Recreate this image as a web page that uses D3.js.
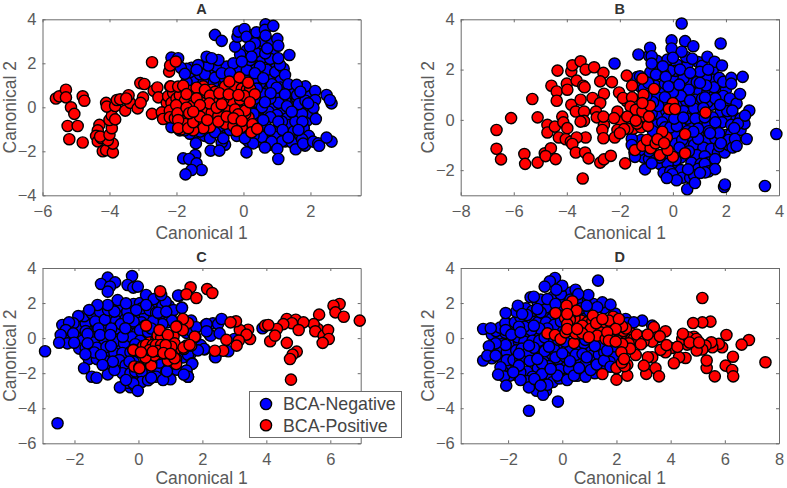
<!DOCTYPE html>
<html><head><meta charset="utf-8">
<script src="https://cdnjs.cloudflare.com/ajax/libs/d3/7.8.5/d3.min.js"></script>
<style>html,body{margin:0;background:#fff}svg{display:block}text{font-family:"Liberation Sans",Arial,sans-serif}</style>
</head><body><div id="c"></div>
<script>
const panelTitles=["A","B","C","D"];
const seriesNames=["BCA-Negative","BCA-Positive"];
const xDomains=[[-6,3.5],[-8,4],[-3,6.95],[-3.75,8]];
const yDomains=[[-4,4],[-3,4],[-6,4],[-6,4]];
const xTicks=[[-6,-4,-2,0,2],[-8,-6,-4,-2,0,2,4],[-2,0,2,4,6],[-2,0,2,4,6,8]];
const yTicks=[[-4,-2,0,2,4],[-2,0,2,4],[-6,-4,-2,0,2,4],[-6,-4,-2,0,2,4]];

const negA=[[.5,1.1],[.8,.85],[1,.55],[.6,.3],[.9,.1],[1.2,-.1],[.5,-.05],[.75,-.2],[1,-.35],[1.3,-.5],[1.55,-.35],[1.7,-.05],[1.4,.25],[1.6,.4],[1.9,-.2],[.4,-.5],[.2,-.2],[.4,.25],[.2,.85],[-.2,1.15],[-.6,1.1],[-.9,1.1],[-1.2,1.25],[-1.5,1.3],[-1.7,1.15],[-2.1,-.65],[-2,-.8],[-1.3,-.95],[-1.5,-1.25],[-1.15,-1.3],[-.7,-1.05],[-.55,-.9],[-.4,-.85],[0,-.95],[1.4,-.8],[.9,-1.1],[.5,-1.1],[.1,-1.25],[.7,-1.4],[1.1,-1.3],[1.25,-1.55],[.8,-1.7],[.45,-1.55],[1.5,-1.1],[.1,-.55],[.1,1.5],[.4,1.2],[.75,1.3],[-.4,1.55],[-.7,1.6],[-1,1.7],[-1.3,1.5],[0,1.85],[.3,1.9],[.1,2.6],[.5,2.6],[.9,2.4],[.9,2.05],[.65,1.9],[.2,3.1],
[-1.6,1.6],[-1.15,1.5],[-.85,1.35],[-.55,1.3],[-.25,1.3],[.05,1.25],[.3,1.2],[-.8,1.85],[-.5,1.85],[-.2,1.8],[.1,1.7],[.7,1.7],[.95,1.6],[1.2,1.75],[.2,2.15],[.55,2.25],[.8,2.2],[.45,2.9],[.6,3],[.85,2.95],[.15,3.3],[.3,3.2],[-.1,2.4],[.35,2.5],[.65,2.45],[1.1,1.2],[.85,1.05],[1.1,.9],[1.5,.75],[1.9,.55],[1.85,.95],[1.6,.55],[1.25,.3],[1.05,.2],[.8,.4],[.6,.6],[.4,.85],[.35,.4],[.15,.45],[.55,0],[.3,-.3],[.8,-.45],[1.15,-.65],[1.55,-.65],[1.9,-.6],[2.05,-.3],[1.75,-.3],[1.3,.05],[1.65,.15],[1.85,.3],[.65,-.8],[.35,-.85],[.1,-.75],[.55,-1.35],[.3,-1.3],[.15,-1.55],[.95,-1.35],[1.15,-1.55],[1.45,-1.6],[1.7,-1.3],[1.8,-.95],[1.95,-1.3],[1.75,-1.45],[-.2,-1.3],[-.1,-.95],[-.7,-.85],[-.95,-1],[-1.05,-1.15],[-1.6,-1.2],[-1.9,-1.05],[-1.75,-1.05],[-2.15,-.9],[-.55,-1.7],[-.65,-1.6],[-1.05,1.9],[-.3,2],[-1.55,1.8],[-1.7,1.75],
[-.85,3.29],[-.65,3.02],[-.25,2.76],[-.18,3.21],[-.15,3.44],[.03,3.56],[.09,3.21],[.39,3.41],[.66,3.77],[.64,3.52],[.89,3.7],[.66,3.26],[1.01,3.11],[1.04,2.8],[.34,2.91],[.19,2.76],[.71,2.68],[1.37,2.38],[1.09,1.92],[1.04,2.23],[.24,2.3],[-.05,2.08],[.49,1.85],[.34,1.55],[-1.1,2.3],[-.75,2.15],[-.95,2.23],[-2.15,2.26],[-1.95,2.23],[-1.87,1.8],[-1.75,1.52],[-1.35,1.92],[-1.4,1.7],[-.65,1.55],[-.4,1.55],[.59,1.32],[1.24,1.47],[1.34,1.05],[1.59,1.02],[.99,.89],[.81,.64],[1.24,.59],[.64,.23],[1.7,.71],[2.14,.74],[2.48,.56],[2.14,.33],[2.63,.18],[2.09,-.02],[1.93,.18],[2.58,.33],[2.16,-.53],[1.76,-.65],[1.44,-.2],[1.04,-.65],[.59,-.58],[1.17,-1.03],[.79,-1.03],[1.64,-1.03],[.84,-1.56],[1.34,-1.38],[1.01,-1.89],[1.04,-2.35],[1.56,-1.91],[1.84,-1.74],[1.78,-1.65],[2.08,-1.56],[2.23,-1.64],[2.26,-1.75],[2.63,-1.56],[2.48,-1.38],[.64,-1.83],[.29,-1.64],[.09,-2.05],[-.98,-1.97],[-.72,-1.97],[-1.42,-1.64],[-1.44,-2.17],[-1.8,-2.32],[-1.62,-2.35],[-1.4,-2.55],[-1.25,-2.85],[-1.55,-2.85],[-1.73,-3.05],[-1.3,-1.1],[-1,-1.41],[-.85,-1.14],[-.6,-1.41],[-.4,-1.03],[.04,-1.41]];
const posA=[[-5.6,.4],[-5.5,.5],[-5.3,.8],[-5.3,.45],[-4.8,.5],[-4.75,.3],[-5.15,0],[-5.05,-.3],[-5.25,-.85],[-4.95,-.85],[-5.2,-1.45],[-4.8,-1.6],[-4.3,-.8],[-4.35,-1.05],[-4.4,-1.3],[-4.35,-1.55],[-4.25,-1.4],[-4.2,-2],[-4.1,-1.95],[-3.9,-2.05],[-3.9,-1.65],[-4.05,-1.5],[-4.28,-1.33],[-4,-1.25],[-3.93,-.95],[-4,-.58],[-3.93,-.38],[-3.83,-.55],[-4.1,.2],[-4.08,.03],[-3.83,.06],[-3.78,.33],[-3.68,.36],[-3.53,-.15],[-3.38,.2],[-3.43,.55],[-3.5,.4],[-3.16,-.05],[-3.08,1.1],[-2.96,1.06],[-3,.45],[-3.07,.2],[-2.73,2.05],[-2.73,-.3],[-2.68,.75],[-2.57,.9],[-2.54,.45],[-2.29,.2],[-2.44,-.23],[-2.4,-.53],[-2.19,.94],[-2.22,1.62],[-2.19,1.9],[-2.02,2.08],
[-2.25,.5],[-2.1,.65],[-2.15,.2],[-2,.4],[-1.85,.25],[-1.6,.75],[-1.55,.3],[-1.3,.6],[-1.2,.95],[-1.1,.25],[-.95,.8],[-.85,.35],[-.55,.7],[-.3,.7],[-.55,.95],[-.25,.95],[-.05,.85],[.1,.8],[-.2,.1],[-.35,-.2],[-.6,-.15],[-.9,-.5],[-1,-.9],[-1.25,-.75],[-1.45,-.4],[-1.75,-.5],[-1.85,-.15],[-2.2,-.15],[-2.2,-.45],[-1.2,-.95],[-1.5,-1.05],[-1.85,-1],[-.55,-.75],[-.3,-.85],[-.05,-.9],[.15,-.45],[.05,-.3],[.2,.85],
[-1.9,.55],[-1.75,.3],[-1.5,.5],[-1.25,.35],[-1.55,.05],[-1.2,-.1],[-.95,-.25],[-.5,.05],[-.35,.3],[-.1,.35],[-.25,-.1],[-.6,.35],[-.85,.7],[-1.1,.65],[.05,-.15],[-2.05,-.5],[-1.75,-.75],[-2.01,.1],[-1.97,-.27],[-2.17,.95],[-1.95,.94],[-1.8,.98],[-1.7,.6],[-1.7,-.02],[-1.95,-.58],[-1.95,-.95],[-1.65,-.95],[-1.5,-.68],[-1.4,.89],[-1.4,.41],[-1.62,-.27],[-1.15,.79],[-1,.53],[-1.02,.18],[-1.3,-.42],[-1.08,-.58],[-.75,-.39],[-.75,-.65],[-.8,-.02],[-.65,.14],[-.5,-.42],[-.72,.64],[-.44,.59],[-.42,1.17],[-.12,1.36],[.14,1.12],[.03,.52],[.34,.59],[-.15,.56],[.19,.23],[-.16,-.32],[-.3,-.5],[-.05,-.62],[-.2,-1.08],[.27,-.77],[.24,-1.14],[.41,-.98],[-1.3,.1],[-1.5,-.2]];

const negB=[[.2,1],[.45,1.2],[.7,1.35],[1,1.1],[1.3,1.1],[1.55,.95],[1.75,.75],[2,.55],[.2,.65],[.5,.75],[.85,.8],[1.1,.85],[1.45,.6],[1.8,.3],[2.1,.15],[2.4,.05],[.1,.25],[.4,.35],[.75,.25],[1,.3],[1.5,.1],[1.85,-.1],[2.2,-.2],[2.55,-.4],[.05,-.1],[.35,-.25],[.7,-.15],[1,-.1],[1.3,-.2],[1.6,-.35],[2,-.6],[.15,-.6],[.7,-.7],[1,-.55],[1.3,-.8],[1.6,-.75],[1.95,-.9],[.1,-.95],[.45,-1],[.8,-1],[1.15,-1.1],[1.45,-1.15],[.9,-1.4],[1.2,-1.45],[.7,-1.7],[1.05,-1.75],[1.35,-1.7],[.3,-1.5],[.05,-1.8],[-.3,-1.5],[-.5,-1.75],[-.1,.9],[-.35,.55],[-.5,.2],[-.4,1.15],[-.6,.9],[-.65,1.35],[-.9,1.7],[-1.2,1.3],[-.6,1.8],[.05,1.7],[.6,1.5],[.9,1.5],[-1.45,-1.3],[-1.3,-.9],[-1.1,-1.5],[-.9,-1.55],[-.6,-.2],
[-.9,2.55],[-.6,2.35],[-.55,2.05],[-.2,2.4],[.15,2.2],[.55,2.2],[.95,2.3],[.5,2.5],[1.1,2.15],[1.5,1.95],[.6,1.2],[.1,1.95],[-.1,1.95],[-.35,1.85],[-.85,1.9],[-.3,1.45],[.4,1.65],[1.5,1.6],[1.25,1.7],[1.75,1.3],[1.55,1.3],[2,1.2],[1.9,.95],[1.3,.7],[1.6,.85],[2.15,.85],[2.4,.65],[2.05,.35],[2.55,.05],[2.7,-.15],[2.45,-.15],[2.2,-.55],[1.6,-.1],[.3,.95],[0,1.1],[-.3,.9],[-.25,.35],[-.2,.1],[-.4,-.1],[-.3,-.3],[-.1,-.3],[.15,-.25],[.05,.05],[.55,.05],[.8,.45],[.85,.05],[1.2,.1],[1.35,-.45],[.95,-.35],[.55,-.45],[.35,-.8],[.6,-1.25],[.95,-.75],[.25,-1.1],[.1,-1.6],[-.2,-1.75],[-.35,-2.1],[-.1,-2.05],[.3,-2],[.35,-2.3],[.65,-2.3],[.95,-1.95],[.8,-2.2],[1.2,-1.75],[1.35,-2.05],[1.7,-1.3],[1.95,-1.3],[1.75,-1.05],[2.1,-1],[2.1,-.8],[2.25,-1.1],[-.7,-1.4],[-.5,-1.5],[-.9,-1.25],[-1.25,-1.2],[-1.2,-.8],[-1.55,-.75],[-.75,-.45],[-.8,.25],[-.55,.55],[-.75,.7],[-1,.95],[-1.35,1.7],[-1.1,1.25],
[.33,3.83],[-.05,3.16],[.46,3.13],[1.8,3.04],[.77,2.93],[-.86,2.87],[-1.3,2.6],[-.8,2.53],[-.05,2.84],[.33,2.71],[0,2.47],[.73,2.43],[1.3,2.51],[1.57,2.31],[1.85,2.16],[-2.2,2.24],[-.8,2.24],[-.38,2.13],[.27,2],[1.02,1.91],[1.33,2],[.65,1.87],[-.64,1.8],[-.27,1.71],[1.75,1.67],[1.9,1.51],[2.2,1.67],[2.2,1.44],[2.63,1.71],[2.53,1.03],[.24,1.4],[1.25,1.37],[1.02,1.47],[-.17,1.33],[-.93,1.47],[-1.24,1.73],[.65,.77],[1.21,.89],[1.78,.6],[2.24,.37],[2.88,.37],[2.72,.17],[2.31,-.33],[2.78,-.76],[2.34,-.76],[2.4,-1.04],[1.74,-.53],[1.4,-.53],[1.15,.47],[.39,.09],[.77,-.47],[1.81,-.93],[1.59,-1.56],[1.59,-1.96],[1.21,-2.09],[1.02,-2.11],[.57,-1.97],[-.02,-2.16],[.14,-2.4],[-.23,-2.31],[.54,-2.76],[.83,-2.51],[1.93,-2.67],[1.96,-2.57],[3.47,-2.63],[3.9,-.56],[-1.05,-1.97],[-.8,-1.73],[-1.43,-1.47],[-1.55,-1]];
const posB=[[-6.65,-.4],[-6.65,-1.15],[-6.48,-1.57],[-6.1,.07],[-5.3,.83],[-5.1,.1],[-5.6,-1.36],[-5.57,-1.75],[-5.1,-1.7],[-4.83,-1.33],[-4.6,-1.13],[-4.8,-1.44],[-4.42,-1.56],[-4.73,-.2],[-4.73,-.5],[-4.45,-.27],[-4.3,-.7],[-4.58,1.36],[-4.35,1.96],[-4.38,1.13],[-4.38,.76],[-4.17,.13],[-4.13,-.1],[-3.98,-.33],[-4.04,-.77],[-3.85,-.87],[-4,1.44],[-3.98,1.2],[-3.83,.6],[-3.66,.33],[-3.83,1.93],[-3.79,2.17],[-3.48,2.33],[-3.63,1.56],[-3.38,1.36],[-3.33,1.3],[-3.48,.8],[-3.29,2],[-2.97,2.09],[-2.62,1.87],[-2.74,1.53],[-2.3,1.5],[-2.6,1.04],[-3.03,.87],[-2.74,.67],[-3.35,.33],[-2.9,.33],[-2.87,.1],[-3.35,-.04],[-3.48,-.07],[-2.6,-.2],[-2.62,.13],[-2.66,-.4],[-2.62,-.73],[-3.29,-.7],[-3.63,-.7],[-3.79,-.96],[-3.66,-1.3],[-3.31,-1.3],[-3.18,-1.53],[-2.74,-1.7],[-2.6,-1.57],[-2.34,-1.43],[-3.4,-2.33],[-1.8,-1.73],[-1.75,.75],[-1.35,.15],[-1.2,.1],[-1.05,.45],[-1.5,-.35],[-1.7,-.35],[-1.2,-.3],[-1.35,-.15],[-1.25,.45],[-1.95,-.1],[-2.09,.33],[-2.22,.07],[-2.09,-.4],[-2.19,-.7],[-1.84,-.37],[-2,-.53],[-2.03,1.09],[-1.74,1.76],[-1.88,.87],[-1.54,1.36],[-1.54,.89],[-1.15,1.64],[-.71,1.23],[-1.11,1],[-1.6,.53],[-1.4,.4],[-1.72,.13],[-1.4,-.03],[-1.15,.33],[-.86,.56],[-.94,-.24],[-.9,.13],[-1.15,.67],[0,.67],[-.15,.43],[.08,.43],[1.23,.29],[.46,-.57],[.46,-1.33],[-1.43,-1.2],[-1.15,-1.03],[-.84,-1.13],[-.98,-.8],[-.65,-.93],[-.49,-1.4],[0,-1.47],[-.2,-1.2],[-.23,-.7],[-.4,-.47],[-.58,-.77],[-.33,-.93]];

const negC=[[-1.8,.9],[-1.5,1.05],[-1.2,1.2],[-.9,1.3],[-.6,1.5],[-.3,1.7],[-1.9,.5],[-1.6,.6],[-1.3,.75],[-1,.85],[-.7,1],[-.4,1.1],[-.1,1.2],[.2,1.3],[.5,1.2],[.8,1.1],[1,1.3],[-2,.05],[-1.75,.05],[-1.45,.2],[-1.1,.45],[-.7,.55],[-.4,.6],[-.1,.7],[.1,.9],[-1.8,-.35],[-1.5,-.5],[-1.2,-.4],[-1.05,-.1],[-.65,-.1],[-.3,.3],[-.05,.3],[.1,.1],[-1.45,-.9],[-1.2,-.7],[-.95,-.7],[-.6,-.6],[-.3,-.5],[-1,-1.1],[-.75,-1.05],[-.45,-1.1],[-.2,-1],[-.6,-1.6],[-.35,-1.8],[-.05,-1.6],[.3,-1.8],[.6,-1.8],[.95,-1.6],[-.1,-2.2],[.15,-2.3],[.55,-2.2],[-.25,-2.8],[-1.9,.2],[.9,.9],[.5,1.75],[.7,1.6],
[-2.3,.1],[-2.1,.6],[-1.85,.65],[-1.65,.85],[-1.7,1.25],[-1.45,1.4],[-1.2,1.5],[-1.35,.95],[-1.05,1.05],[-.95,1.6],[-.65,1.8],[-.35,1.5],[-.15,1.95],[.05,2],[.1,1.7],[.35,1.6],[.55,1.45],[.95,1.85],[.75,1.85],[1.1,1.6],[1.05,1],[.75,.8],[.45,.95],[.2,.7],[-.15,.95],[-.55,.8],[-.85,.55],[-1.25,.55],[-1.65,.4],[-1.4,.05],[-1.05,-.15],[-.75,-.2],[-.45,-.3],[-.2,.05],[.05,.45],[.3,.35],[.4,.55],[.05,-.15],[-.1,-.35],[-2.2,0],[-1.9,-.05],[-1.75,-.15],[-1.85,-.6],[-1.65,-.55],[-1.4,-.25],[-1.3,-.55],[-1,-.5],[-.75,-.85],[-.5,-.85],[-.25,-.8],[-1.55,-1.2],[-1.3,-1.2],[-1.05,-1.3],[-.85,-1.55],[-.6,-1.25],[-.4,-1.55],[-.15,-1.35],[-.5,-2],[-.25,-2],[-.1,-1.9],[.1,-1.95],[-.35,-2.55],[-.1,-2.75],[.1,-2.5],[.3,-2.4],[.65,-1.4],[.4,-1.4],[1.2,-1.8],[1.15,-1.1],[1.5,.3],[1.7,.3],[1.8,-.35],[1.95,-.4],[1.65,-.85],[1.4,-1.1],[1.55,-.95],
[-.96,3.45],[-1.17,3.09],[-.73,3.18],[-.89,2.94],[-.96,2.65],[-.2,3.54],[-.34,3.03],[-.16,2.88],[-.02,2.94],[-.65,2.17],[-.39,1.98],[.24,2.46],[.48,2.23],[.85,2.08],[.71,2.46],[1.27,2.42],[1.36,1.74],[.61,1.45],[.87,1.51],[.24,1.89],[-.07,1.6],[-.31,1.13],[-.75,1.51],[-.96,1.89],[-1.28,1.89],[-1.54,1.6],[-1.88,1.26],[-2.03,.84],[-2.38,.75],[-2.17,.9],[-2.27,.46],[-2.04,.27],[-2.43,.18],[-2.22,-.3],[-2.01,-.26],[-2.48,-.26],[-1.59,.24],[-1.2,.18],[-.88,.18],[-.49,.08],[-.41,.56],[-1.59,-.3],[-1.38,-.82],[-1.66,-.92],[-1.7,-1.72],[-1.46,-2.2],[-1.31,-2.26],[-.96,-2.07],[-.75,-1.82],[-.8,-1.34],[-.86,-.45],[-1.17,-.96],[-1.12,-1.53],[-.58,-2.81],[-.16,-2.58],[-.02,-3.01],[-.39,-2.39],[-.28,-1.34],[.4,-2.26],[.87,-1.91],[1,-2.35],[.77,-2.39],[1.5,-1.87],[1.55,-2.2],[1.68,-1.44],[2.07,-.64],[2.23,.18],[2.33,.84],[2.1,.75],[2.39,-1.06],[-2.92,-.75],[-2.53,-4.86],[1.24,2.43],[1.36,1.72],[1.65,1],[1.81,.62],[2.13,.8],[2.05,-.62],[2.41,-1.09],[2.26,.14],[2.49,.8],[2.6,1.09],[2.54,.27],[2.13,.39],[3,-.05],[2.81,-.75],[1.68,-1.47],[1.5,-1.85],[1.55,-2.2],[1.42,-2.08],[.89,-1.89],[1.86,-.7],[3.88,.56]];
const posC=[[6.92,1],[6.29,1.95],[6.1,1.85],[6.16,1.47],[6.42,1.22],[5.65,1.34],[5.61,.52],[5.48,.8],[5.53,.39],[5.79,.14],[5.93,.46],[5.95,-.05],[5.76,-.27],[4.64,1.09],[4.92,1.05],[5.16,.9],[4.8,.85],[5.01,.46],[4.53,.8],[4.33,.52],[3.96,.71],[4.06,.75],[4.12,-.18],[4.27,.14],[4.64,-.27],[4.95,-.77],[4.82,-.94],[4.74,-1.19],[4.77,-2.37],[3.43,.48],[3.49,-.05],[3.17,.46],[3.38,.2],[3.14,-.14],[3.07,-.43],[3.05,.96],[2.88,.9],[2.75,-.1],[2.65,-.72],[2.39,-.72],[2.15,2.8],[2.31,2.57],[1.63,2.9],[1.5,2.5],[1.81,2.29],[.68,2.67],[.24,.71],[1.55,.86],[1.39,1.09],[1.21,.67],[1.39,.45],[1.78,.08],[1.5,-.43],[1.65,-.43],[1.42,-.62],[-.15,-.66],[-.13,-1.62],[.03,-1.66],[.22,-1.09],[.4,-1.57],[.66,-.9],[1.18,-1.19],[1.18,-1.48],[.92,-1.28],[.35,-.25],[.55,-.15],[.7,-.1],[.85,-.1],[1,.05],[1.1,.1],[.45,-.55],[.6,-.5],[.75,-.6],[.9,-.45],[1.15,-.65],[1.05,-.95],[.5,-1],[.3,-.6],[.15,-.45],[.6,.15],[.71,-.01],[.66,.46],[.92,.18],[1.13,-.3],[1.18,.65],[1.76,.08],[1.41,-.54],[1.6,-.39],[.22,-1.11],[-.16,-.68],[.03,-1.72],[1.13,-1.15],[.82,-.87],[.24,-.39],[.45,-.39],[.35,-.68],[.55,-.39],[.71,-.39],[.92,-.68],[1.03,-.49],[.61,-.73],[.45,-.77],[.08,-.81],[.85,-.4],[.78,-.85],[1,-.9]];

const negD=[[-2.5,-.6],[-2.3,-.1],[-2.1,.3],[-1.9,.8],[-1.6,1.1],[-1.4,.7],[-1.15,1.1],[-.9,.9],[-.7,1.4],[-.4,1.1],[-.1,1.3],[-.05,1.9],[.2,2.3],[.3,2.6],[-.1,2.3],[-.4,1.7],[.9,1.5],[1.1,1.3],[-2.2,-1.3],[-1.9,-1],[-1.9,-.4],[-1.6,-.2],[-1.3,.2],[-1,.15],[-.7,.4],[-.6,.9],[-2,-1.7],[-1.7,-1.5],[-1.4,-1.1],[-1.1,-.9],[-.8,-.5],[-.5,-.2],[-.2,-.4],[-.1,.5],[.3,-.6],[.6,-.7],[1,-.6],[1.3,-.6],[1.6,-.5],[-1.7,-2.1],[-1.3,-1.9],[-.9,-1.7],[-.7,-1.2],[-.4,-.9],[-.1,-1.3],[.1,-1.7],[.4,-1.2],[.7,-1.3],[1.1,-1.3],[-1.1,-2.2],[-.8,-2.4],[-.4,-2.2],[-.1,-1.8],[.3,-2.1],[.7,-2],[1,-1.9],[-.5,-1.6],[1.2,-.2],[.1,-.2],[.8,-.3],
[-2.6,.2],[-2.45,.4],[-2.3,.6],[-2.1,.85],[-1.75,.9],[-1.55,1.2],[-1.7,1.5],[-1.35,1.7],[-1.1,1.55],[-.9,1.95],[-.6,1.75],[-.8,2.2],[-.35,2.35],[-.05,2.5],[.3,2.2],[.65,2.1],[.95,2.1],[1.15,1.95],[.7,1.7],[1,1.55],[1.55,1.7],[2.1,1],[1.95,1.4],[-.3,.75],[-.05,.95],[-.55,.55],[-.85,.55],[-1.15,.45],[-1.4,.65],[-1.6,.65],[-1.65,.05],[-1.4,-.2],[-1.1,-.15],[-.85,-.15],[-.65,.05],[-.3,-.15],[-2.25,-.35],[-2.6,-.7],[-2.6,-1.15],[-2.3,-.8],[-2.05,-.8],[-1.7,-.7],[-1.5,-.6],[-1.25,-.8],[-1.05,-.55],[-.65,-.75],[-.3,-.65],[-2.05,-1.25],[-1.8,-1.25],[-1.55,-1.2],[-1.2,-1.3],[-.75,-1.45],[-.25,-1.1],[.1,-1.05],[.5,-.95],[.75,-.9],[1.1,-1],[1.35,-.95],[1.55,-.8],[1.85,-.6],[1.9,-1.1],[1.75,-1.35],[-2.2,-1.9],[-1.95,-2.15],[-1.55,-1.95],[-1.3,-2.45],[-1,-2.6],[-.75,-2.05],[-.35,-2.5],[-.1,-2.3],[.25,-1.75],[.55,-2.15],[.85,-1.5],[1.2,-2],[1.4,-1.75],[-.95,-3],[-.6,-3],[-.15,-.1],[1.5,-.35],[1.2,-.45],[.85,-.1],
[1.32,3.28],[-.27,3.43],[-.46,3.24],[-.65,2.94],[0,2.99],[-.22,2.76],[.49,2.76],[.96,2.46],[.59,2.51],[1.48,2.04],[1.78,1.91],[1.29,1.76],[.9,1.85],[-1.17,2.33],[-1.05,2.36],[-.55,2.23],[-.25,1.95],[-1.64,1.85],[-2.09,1.43],[-1.3,1.32],[-1.48,1.38],[-.8,1.47],[-.92,1.66],[-2.92,.52],[-2.64,.56],[-2.09,.46],[-1.88,.2],[-1.54,.33],[-1.05,.71],[-2.09,-.39],[-2.46,-.3],[-2.71,-.46],[-2.92,-1.28],[-2.77,-1],[-2.46,-1],[-2.28,-1.66],[-2.15,-2.19],[-2.37,-2.08],[-2.07,-2.71],[-1.54,-2.39],[-1.23,-2.81],[-1.03,-2.33],[-.71,-3.23],[-.55,-2.66],[-.8,-2.71],[-1.23,-4.14],[-.16,-3.62],[-.18,-2.14],[.18,-2.39],[.43,-2.14],[.86,-2.2],[.62,-1.7],[1.05,-1.82],[1.27,-1.51],[.9,-1.09],[.28,-1.32],[0,-.87],[-.43,-1.76],[-.92,-1.19],[-1.23,-.43],[-1.6,-.9],[-1.6,-1.57],[-1.81,-1.95],[-.49,-.49],[1.54,-1.28],[1.78,-1.63],[1.66,-.71],[2.95,1],[2.34,1.09],[2.4,.86],[2.64,.9],[3.32,.71]];
const posD=[[7.5,-1.38],[6.89,-.11],[6.62,-.37],[6.06,.18],[6.3,-1.06],[6.03,-1.57],[6.27,-1.82],[6.31,-2.18],[5.63,-2.18],[5.33,-1.7],[5.33,-1.28],[5.9,-.52],[5.78,-.33],[5.54,-.52],[5.5,-.24],[5.29,-.43],[5.17,-.65],[4.96,-.71],[5.47,.94],[5.17,.9],[4.83,.86],[5.17,2.29],[4.86,.08],[4.61,-.37],[4.43,-.05],[4.65,.05],[4.95,-.05],[4.03,-.56],[4.55,-1.13],[4.31,-1.09],[4.12,-1.43],[3.81,.39],[3.81,-.81],[3.63,-.67],[3.38,.62],[3.5,.05],[3.32,-.2],[3.32,-1.09],[3.16,-1.09],[3.44,-1.72],[3.57,-2.18],[3.1,-2.04],[3.01,-1.57],[2.71,-.96],[2.95,.08],[2.8,-.05],[2.55,.27],[2.34,-.05],[2.64,-.05],[2.4,-1.51],[2.4,-2.14],[2,-2.37],[2,-1.7],[1.48,-2.05],[.3,.4],[.4,.75],[.7,1],[.45,1.15],[.1,1.15],[.35,1.45],[.9,.55],[1.3,.55],[1.55,.6],[1.7,.65],[1.85,.7],[1.95,.05],[2.2,.25],[2.45,-.3],[2.75,.2],[3,-.2],[3.15,.2],[2.25,.4],[1.35,.95],[1.55,.9],[1.85,.3],[2.35,.55],[2.5,-.6],[2.9,-.35],[3.6,.1],[3.85,-.4],[4.25,-.5],[4.7,-.25],[5.05,-.25],[4.45,.25],[2.3,-1.6],[2.2,-1.4],[2.21,.67],[1.88,1.22],[1.72,1],[2.09,1.09],[1.97,.52],[2.03,-.14],[2.21,-.33],[2.18,-.81],[2.28,-1.19],[-.25,1.43],[-.55,.27],[-.27,.18],[-.06,-.05],[.43,-.28],[.37,2.1],[.53,1.57],[.16,1.85],[.28,1.03],[.18,.81],[.92,.9],[1.11,.96],[1.13,1.28],[.74,.71],[1.05,.52],[1.41,.33],[1.29,.14],[1.6,-.05],[.12,.33],[.49,.27],[.74,.27],[.98,.05],[1.66,.33],[1.25,.85],[1.48,1.09],[.18,1.38],[.18,.52],[.55,.52],[1.72,-.14],[1.97,-.2]];

const negSeries=[negA,negB,negC,negD], posSeries=[posA,posB,posC,posD];
const W=787,H=488;
const xPix=[[42.5,360.7],[460.7,779],[42.5,360.7],[460.7,779]];
const yPix=[[195.3,19.3],[195.3,19.3],[443.3,268],[443.3,268]];
const xLabelGap=[44,44,41,41];
const ink="#5a5a5a",edge="#6b6b6b",dotR=5.6,dotW=1.4;
const svg=d3.select("#c").append("svg").attr("width",W).attr("height",H);
panelTitles.forEach((t,i)=>{
  const x=d3.scaleLinear().domain(xDomains[i]).range(xPix[i]);
  const y=d3.scaleLinear().domain(yDomains[i]).range(yPix[i]);
  const g=svg.append("g");
  const [l,r]=xPix[i],[b,tp]=yPix[i];
  const mk=(axis,tr,pad,labels)=>{
    const a=g.append("g").attr("transform",tr).call(axis.tickSizeOuter(0).tickPadding(pad));
    a.selectAll("path.domain").attr("stroke",edge);
    a.selectAll("line").attr("stroke",edge);
    a.selectAll("text").attr("fill",ink).attr("font-size",16.5).attr("font-family",'"Liberation Sans",Arial,sans-serif');
    if(!labels)a.selectAll("text").remove();
  };
  mk(d3.axisBottom(x).tickValues(xTicks[i]).tickSizeInner(-3).tickFormat(d3.format("d")),`translate(0,${b})`,10,true);
  mk(d3.axisTop(x).tickValues(xTicks[i]).tickSizeInner(-3),`translate(0,${tp})`,4,false);
  mk(d3.axisLeft(y).tickValues(yTicks[i]).tickSizeInner(-3).tickFormat(d3.format("d")),`translate(${l},0)`,6,true);
  mk(d3.axisRight(y).tickValues(yTicks[i]).tickSizeInner(-3),`translate(${r},0)`,4,false);
  const dots=(data,fill)=>g.append("g").selectAll("circle").data(data).join("circle")
    .attr("cx",d=>x(d[0])).attr("cy",d=>y(d[1])).attr("r",dotR)
    .attr("fill",fill).attr("stroke","#000").attr("stroke-width",dotW);
  dots(negSeries[i],"#0000ff");
  dots(posSeries[i],"#ff0000");
  const cx=(l+r)/2;
  g.append("text").attr("x",cx).attr("y",tp-5.8).attr("text-anchor","middle").attr("font-size",14.5).attr("font-weight","bold").attr("fill","#333").text(t);
  g.append("text").attr("x",cx).attr("y",b+xLabelGap[i]).attr("text-anchor","middle").attr("font-size",17.5).attr("fill",ink).text("Canonical 1");
  g.append("text").attr("transform",`translate(${l-26.5},${(b+tp)/2}) rotate(-90)`).attr("text-anchor","middle").attr("font-size",17.5).attr("fill",ink).text("Canonical 2");
});
const lg=svg.append("g");
lg.append("rect").attr("x",249.5).attr("y",391.5).attr("width",152).attr("height",46).attr("fill","#fff").attr("stroke",edge);
seriesNames.forEach((n,i)=>{
  const yy=404+i*21.3;
  lg.append("circle").attr("cx",266).attr("cy",yy).attr("r",dotR).attr("fill",i?"#ff0000":"#0000ff").attr("stroke","#000").attr("stroke-width",dotW);
  lg.append("text").attr("x",283).attr("y",yy+6.2).attr("font-size",17.8).attr("fill","#444").text(n);
});
</script></body></html>
